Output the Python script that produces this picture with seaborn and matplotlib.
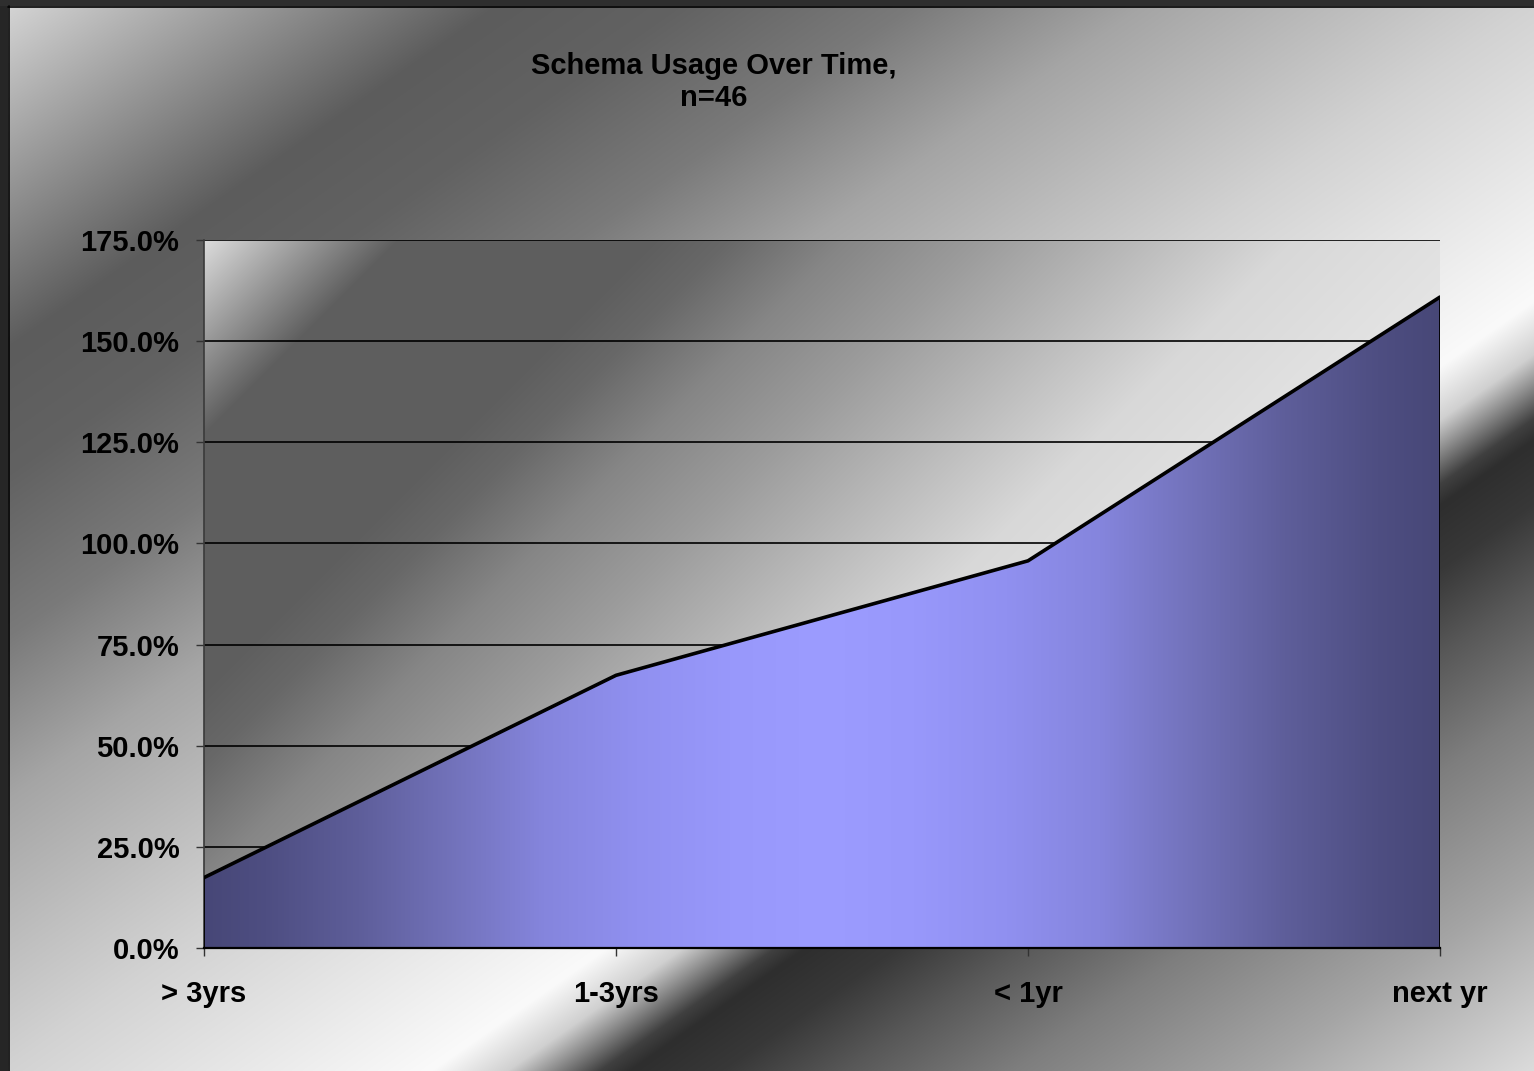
import numpy as np
import pandas as pd
import matplotlib
matplotlib.use("Agg")
import matplotlib.pyplot as plt
from matplotlib.ticker import PercentFormatter
import seaborn as sns

# data (n=46)
categories = ["> 3yrs", "1-3yrs", "< 1yr", "next yr"]
usage = [0.174, 0.674, 0.957, 1.609]
y_ticks = [0, 0.25, 0.5, 0.75, 1.0, 1.25, 1.5, 1.75]
title = "Schema Usage Over Time,\nn=46"

df = pd.DataFrame({"pos": range(len(categories)), "usage": usage})

W, H = 1534, 1071
sns.set_style("white")
plt.rcParams["font.family"] = ["Liberation Sans", "DejaVu Sans"]
plt.rcParams["font.weight"] = "bold"

fig = plt.figure(figsize=(W / 100, H / 100), dpi=100)


def gray_ramp(vals, stops, levels):
    g = np.interp(vals, stops, levels) / 255.0
    return np.dstack([g, g, g])


# chart area background - diagonal grey gradient
bg = fig.add_axes([0, 0, 1, 1], zorder=-10)
yy, xx = np.mgrid[0:H, 0:W]
u = xx / W + yy / H
fig_stops = [0.0, 0.33, 0.45, 0.60, 0.75, 1.0, 1.28, 1.33, 1.357, 1.39, 1.41, 1.47, 1.55, 1.66, 1.82, 2.0]
fig_levels = [0xd8, 0x5c, 0x62, 0x7a, 0xa5, 0xd2, 0xfa, 0xd0, 0x90, 0x40, 0x2e, 0x38, 0x58, 0x7e, 0xa5, 0xdc]
bg.imshow(gray_ramp(u, fig_stops, fig_levels), extent=(0, W, H, 0), aspect="auto", interpolation="bilinear")
# dark frame on left and top
bg.add_patch(plt.Rectangle((0, 0), 8, H, color="#262626", lw=0))
bg.add_patch(plt.Rectangle((0, 0), W, 6, color="#2e2e2e", lw=0))
bg.plot([8.5, 8.5], [6, H], color="black", lw=1.2)
bg.plot([8, W], [6.5, 6.5], color="black", lw=1.2)
bg.set_xlim(0, W)
bg.set_ylim(H, 0)
bg.axis("off")

# plot area
ax = fig.add_axes([204 / W, 1 - 948 / H, (1440 - 204) / W, (948 - 240) / H])
ax.patch.set_alpha(0)

ph, pw = 708, 1236
py, px = np.mgrid[0:ph, 0:pw]
v = (px + py) / (pw + ph)
plot_stops = [0.0, 0.10, 0.23, 0.27, 0.33, 0.40, 0.47, 0.56, 0.70, 1.0]
plot_levels = [0xdc, 0x5e, 0x5e, 0x68, 0x86, 0x9c, 0xb6, 0xd8, 0xe8, 0xf0]
ax.imshow(gray_ramp(v, plot_stops, plot_levels), extent=(0, 3, 0, 1.75), aspect="auto",
          interpolation="bilinear", zorder=0)

# area fill with a horizontal centre gradient
poly = ax.fill_between(df["pos"], df["usage"], facecolor="none", edgecolor="black", lw=1.3, zorder=3)
t = np.abs(np.linspace(0, 3, 1200) - 1.5) / 1.5
t_stops = [0.0, 0.15, 0.3, 0.45, 0.6, 0.75, 0.9, 1.0]
rg = [0x9c, 0x98, 0x90, 0x85, 0x72, 0x5e, 0x4e, 0x47]
bl = [0xff, 0xfb, 0xf0, 0xdd, 0xba, 0x9a, 0x82, 0x77]
r = np.interp(t, t_stops, rg) / 255
b = np.interp(t, t_stops, bl) / 255
grad = np.dstack([r, r, b])
grad = np.repeat(grad, 2, axis=0)
fill_img = ax.imshow(grad, extent=(0, 3, 0, 1.75), aspect="auto", interpolation="bilinear", zorder=1)
fill_img.set_clip_path(poly.get_paths()[0], transform=ax.transData)

sns.lineplot(data=df, x="pos", y="usage", color="black", lw=2.6, ax=ax, zorder=4)

ax.set_xlim(0, 3)
ax.set_ylim(0, 1.75)
ax.set_xlabel("")
ax.set_ylabel("")
ax.set_xticks(range(len(categories)))
ax.set_xticklabels(categories)
ax.set_yticks(y_ticks)
ax.yaxis.set_major_formatter(PercentFormatter(xmax=1, decimals=1))
ax.set_axisbelow(True)
ax.yaxis.grid(True, color="black", lw=1.2)
ax.xaxis.grid(False)

for s in ["top", "right"]:
    ax.spines[s].set_visible(False)
ax.spines["left"].set_color("#3a3a3a")
ax.spines["left"].set_linewidth(1.2)
ax.spines["bottom"].set_color("black")
ax.spines["bottom"].set_linewidth(1.6)

ax.tick_params(axis="y", left=True, length=5.8, width=1, color="#333333", pad=12, labelsize=21)
ax.tick_params(axis="x", bottom=True, length=5.8, width=1, color="#333333", pad=17, labelsize=21)
for lab in ax.get_xticklabels() + ax.get_yticklabels():
    lab.set_fontweight("bold")
    lab.set_color("black")

fig.text(714 / W, 1 - 52 / H, title, ha="center", va="top", fontsize=21, fontweight="bold",
         linespacing=1.17, color="black")

fig.savefig("out.png", dpi=100)
